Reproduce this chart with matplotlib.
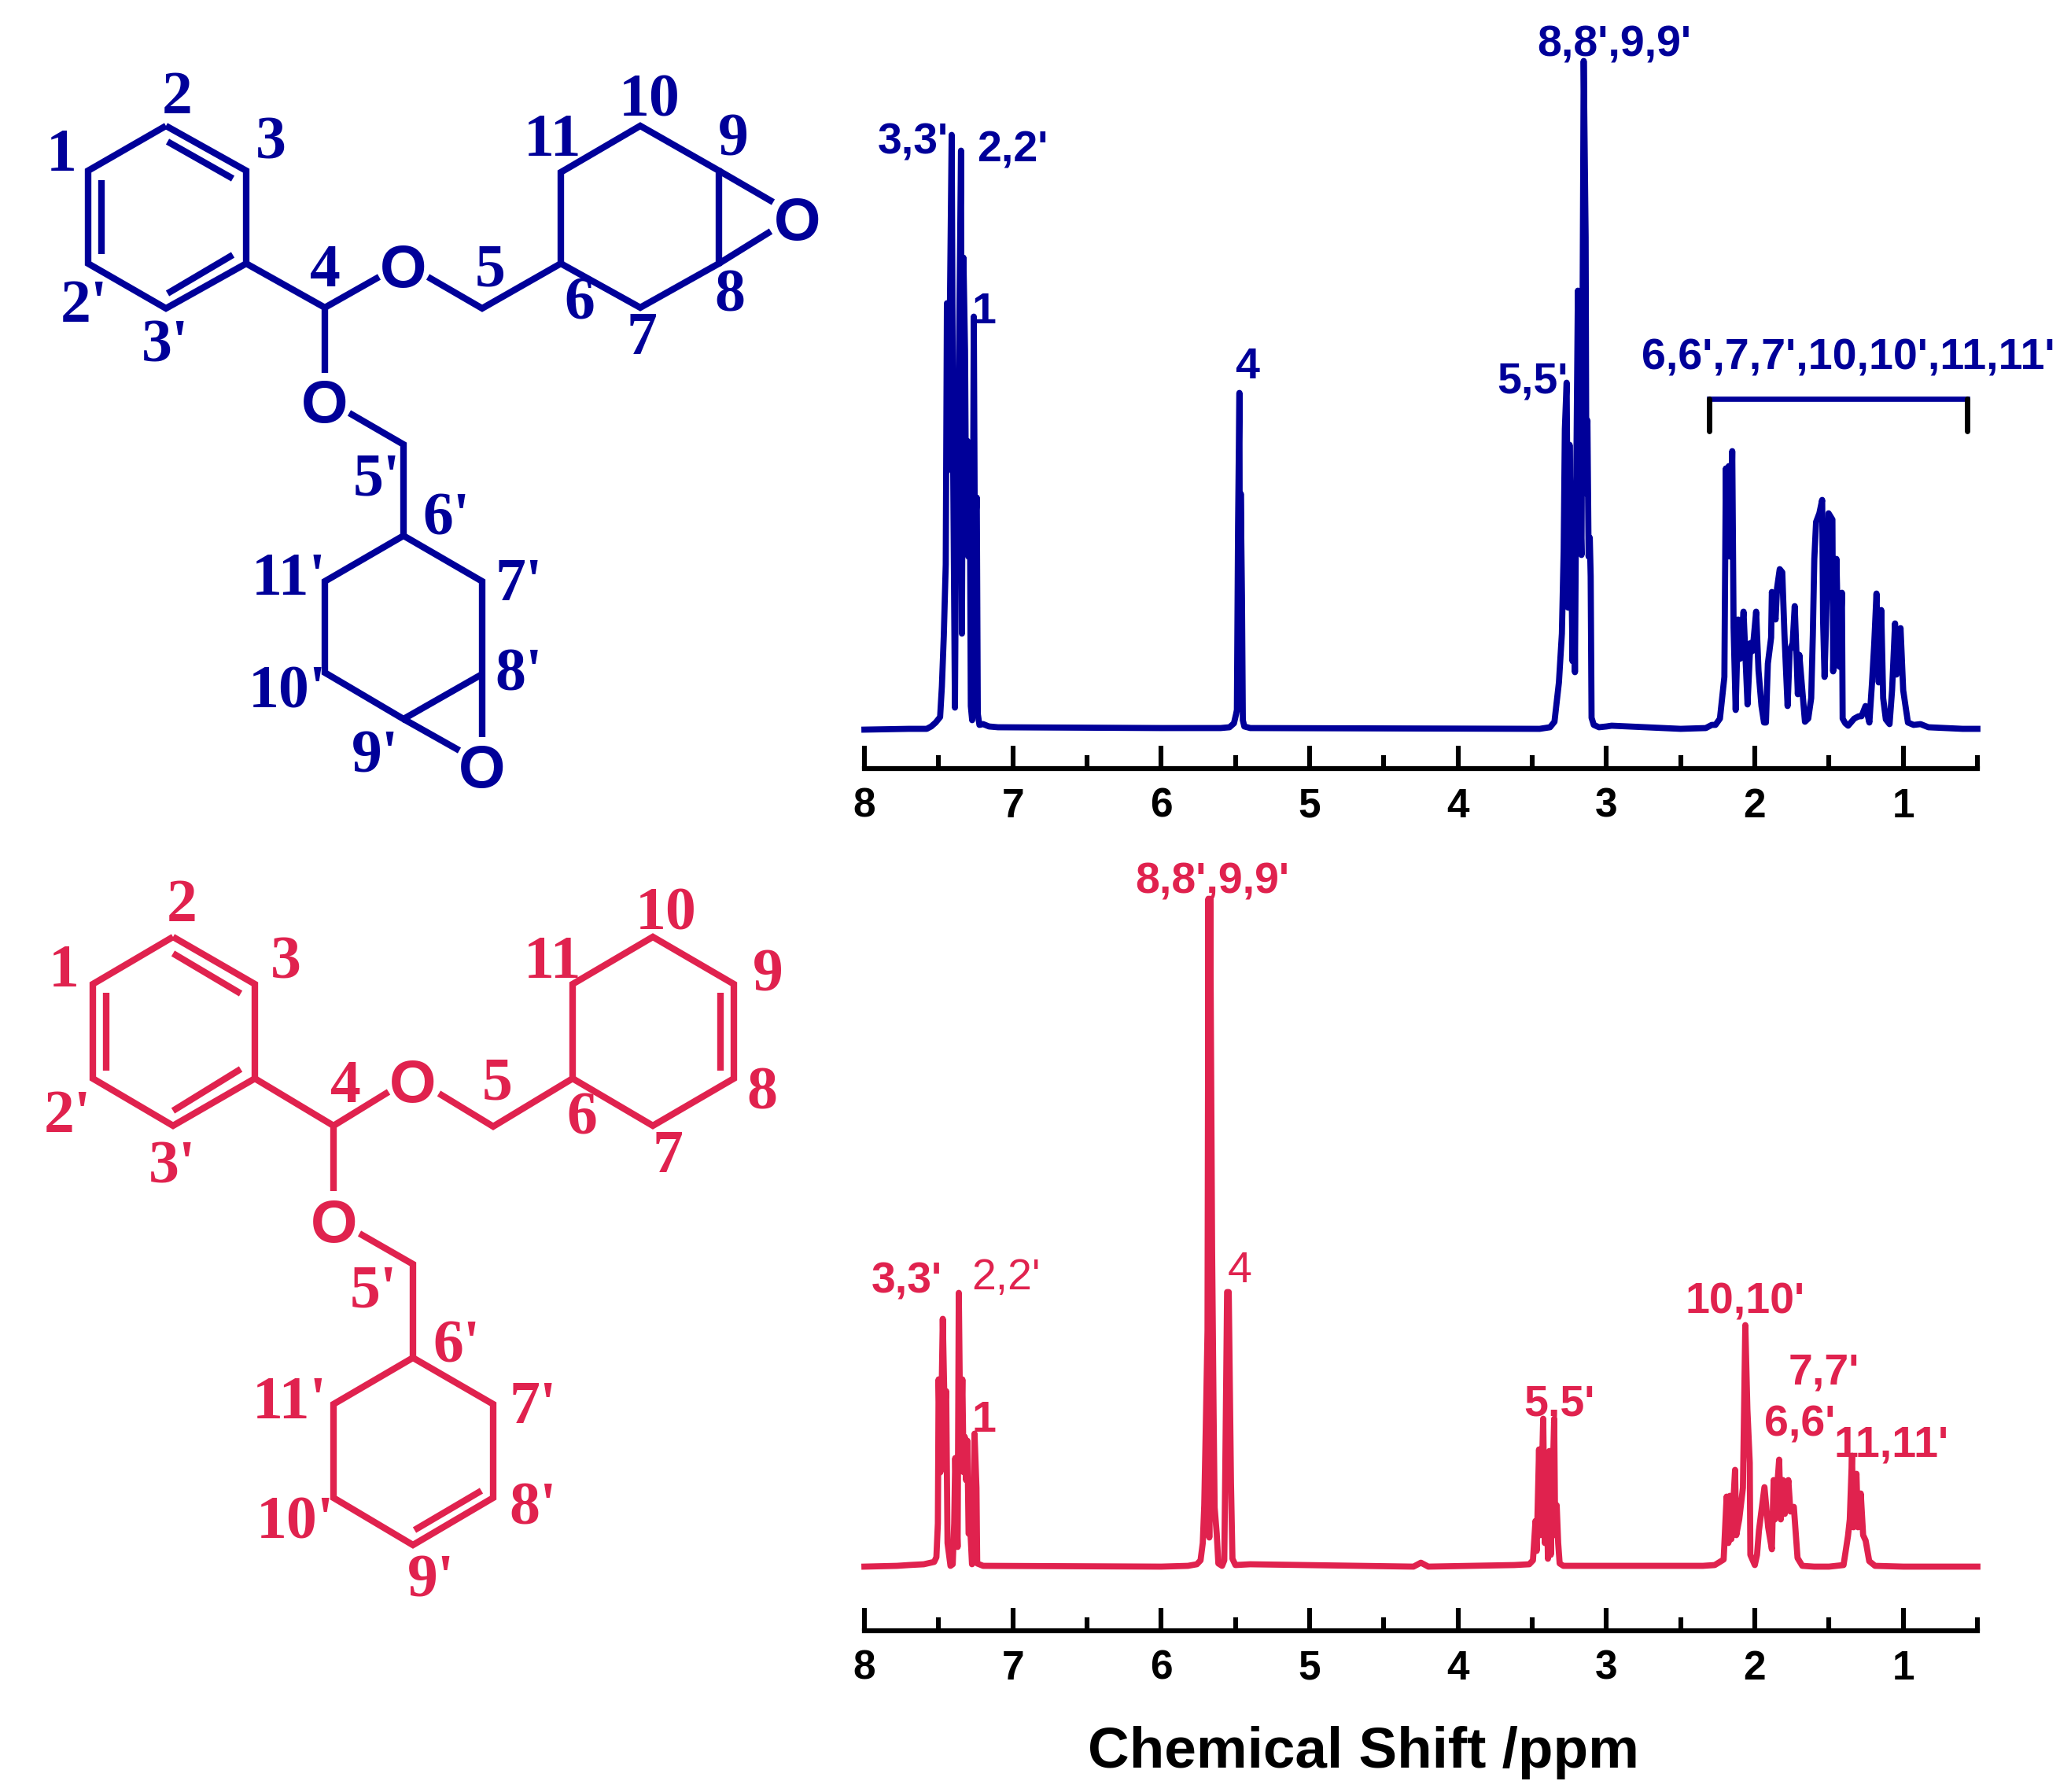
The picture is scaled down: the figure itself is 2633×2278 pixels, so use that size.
import matplotlib
matplotlib.use("Agg")
import matplotlib.pyplot as plt
from matplotlib.ticker import MultipleLocator

BLUE = "#000099"
RED = "#E0224E"
W, H = 2633, 2278

# spectrum values: ppm and peak height (arbitrary units)
blue_arom_ppm = [8.0, 7.7, 7.58, 7.55, 7.52, 7.49, 7.478, 7.465, 7.452, 7.444, 7.435, 7.412, 7.402, 7.39, 7.38, 7.372,
                 7.349, 7.343, 7.333, 7.322, 7.316, 7.306, 7.30, 7.29, 7.283, 7.274, 7.263, 7.256, 7.243, 7.236, 7.225, 7.2, 7.16, 7.1]
blue_arom_h = [0, 1, 1, 4, 9, 16, 55, 120, 210, 542, 330, 756, 338, 28, 338, 300,
               736, 122, 600, 482, 300, 367, 220, 329, 30, 12, 525, 240, 295, 20, 6, 7, 4, 3]
blue_h4_ppm = [6.0, 5.6, 5.54, 5.51, 5.495, 5.49, 5.482, 5.473, 5.469, 5.464, 5.456, 5.45, 5.44, 5.4]
blue_h4_h = [2, 2, 3, 8, 20, 25, 260, 428, 30, 300, 170, 12, 4, 2]
blue_ch2o_ppm = [3.45, 3.38, 3.35, 3.32, 3.30, 3.288, 3.28, 3.268, 3.258, 3.248, 3.238, 3.228, 3.22, 3.212, 3.204, 3.192,
                 3.178, 3.168, 3.153, 3.14, 3.135, 3.128, 3.12, 3.112, 3.106, 3.10, 3.085, 3.05, 3.0, 2.965]
blue_ch2o_h = [1, 3, 10, 60, 122, 227, 382, 441, 155, 362, 230, 87, 250, 73, 300, 558,
               300, 222, 850, 626, 300, 393, 220, 244, 195, 15, 6, 3, 4, 5]
blue_alk_ppm = [2.5, 2.33, 2.29, 2.265, 2.235, 2.205, 2.195, 2.185, 2.175, 2.165, 2.152, 2.143, 2.129, 2.113, 2.10, 2.076,
                2.06, 2.049, 2.03, 2.015, 1.991, 1.975, 1.955, 1.938, 1.925, 1.912, 1.89, 1.885, 1.86, 1.85, 1.832, 1.815,
                1.80, 1.779, 1.765, 1.745, 1.731, 1.72, 1.71, 1.70, 1.68, 1.662, 1.64, 1.62, 1.609, 1.599, 1.587, 1.565,
                1.546, 1.54, 1.53, 1.515, 1.503, 1.477, 1.472, 1.462, 1.45, 1.44, 1.43, 1.413, 1.408, 1.39, 1.371, 1.33,
                1.30, 1.281, 1.254, 1.228, 1.21, 1.195, 1.18, 1.165, 1.148, 1.135, 1.117, 1.092, 1.075, 1.055, 1.045, 1.018,
                1.00, 0.968, 0.93, 0.883, 0.83, 0.6, 0.5]
blue_alk_h = [1, 2, 6, 6, 14, 67, 332, 220, 335, 220, 354, 130, 25, 140, 90, 150,
              80, 32, 110, 100, 150, 75, 30, 9, 9, 84, 117, 175, 140, 180, 204, 200,
              120, 30, 100, 110, 157, 100, 45, 95, 50, 10, 14, 40, 120, 217, 264, 275,
              292, 140, 67, 170, 275, 267, 74, 160, 217, 130, 80, 174, 14, 8, 5, 14,
              17, 17, 30, 9, 60, 110, 173, 60, 152, 40, 13, 7, 50, 135, 70, 129,
              50, 9, 6, 7, 3, 1, 1]

red_arom_ppm = [8.0, 7.78, 7.7, 7.6, 7.53, 7.515, 7.505, 7.50, 7.488, 7.472, 7.46, 7.449, 7.44, 7.42, 7.405, 7.395, 7.388,
                7.378, 7.372, 7.364, 7.352, 7.34, 7.332, 7.324, 7.315, 7.306, 7.298, 7.285, 7.275, 7.268, 7.258, 7.245, 7.24, 7.2]
red_arom_h = [0, 1, 2, 3, 6, 12, 55, 238, 120, 315, 200, 223, 30, 1, 3, 55, 138,
              60, 25, 348, 130, 238, 120, 165, 110, 160, 42, 42, 3, 10, 169, 100, 4, 1]
red_vinyl_ppm = [6.0, 5.82, 5.76, 5.735, 5.72, 5.71, 5.70, 5.688, 5.682, 5.676, 5.67, 5.657, 5.647, 5.64, 5.626, 5.615,
                 5.59, 5.575, 5.567, 5.556, 5.545, 5.53, 5.52, 5.5, 5.4, 4.3, 4.25, 4.2]
red_vinyl_h = [0, 1, 3, 8, 30, 78, 174, 300, 849, 37, 849, 400, 194, 75, 42, 4,
               1, 8, 147, 349, 349, 107, 10, 2, 3, 0, 5, 0]
red_ch2o_ppm = [3.62, 3.52, 3.495, 3.478, 3.47, 3.454, 3.445, 3.426, 3.415, 3.405, 3.394, 3.384, 3.375, 3.352, 3.345,
                3.335, 3.325, 3.315, 3.29, 3.2]
red_ch2o_h = [2, 3, 8, 58, 20, 149, 40, 188, 30, 130, 10, 147, 15, 188, 40,
              78, 30, 4, 1, 1]
red_alk_ppm = [2.35, 2.27, 2.21, 2.19, 2.178, 2.168, 2.158, 2.133, 2.125, 2.105, 2.08, 2.064, 2.05, 2.034, 2.03, 2.0,
               1.985, 1.972, 1.935, 1.91, 1.885, 1.873, 1.865, 1.836, 1.825, 1.81, 1.798, 1.774, 1.76, 1.737, 1.712, 1.68,
               1.6, 1.5, 1.402, 1.372, 1.36, 1.345, 1.335, 1.315, 1.305, 1.286, 1.27, 1.253, 1.229, 1.19, 1.0, 0.5]
red_alk_h = [1, 2, 9, 89, 30, 90, 35, 123, 40, 60, 100, 307, 200, 132, 15, 2,
             15, 46, 101, 50, 22, 110, 60, 136, 60, 110, 67, 110, 70, 76, 11, 1,
             0, 0, 2, 39, 60, 141, 50, 118, 50, 93, 40, 33, 7, 1, 0, 0]

tick_labels = ["8", "7", "6", "5", "4", "3", "2", "1"]
bracket_ppm = [2.306, 0.567]
bracket_h = [421, 380]

# peak labels: text, figure pixel position, weight
blue_peak_labels = [("3,3'", 1161, 176), ("2,2'", 1287, 186), ("1", 1251, 391), ("4", 1586, 461),
                    ("5,5'", 1948, 479), ("8,8',9,9'", 2052, 52), ("6,6',7,7',10,10',11,11'", 2350, 450)]
red_peak_labels = [("3,3'", 1153, 1624, "bold"), ("2,2'", 1279, 1619, "normal"), ("1", 1251, 1800, "bold"),
                   ("4", 1576, 1610, "normal"), ("8,8',9,9'", 1541, 1115, "bold"), ("5,5'", 1982, 1779, "bold"),
                   ("10,10'", 2219, 1650, "bold"), ("7,7'", 2319, 1740, "bold"), ("6,6'", 2288, 1805, "bold"),
                   ("11,11'", 2405, 1831, "bold")]

# structures in figure pixels
blue_bonds = [
    [(211, 160), (313, 217), (313, 335), (211, 392), (112, 335), (112, 217), (211, 160)],
    [(213, 180), (296, 227)], [(129, 229), (129, 323)], [(213, 373), (296, 324)],
    [(313, 335), (413, 391), (482, 352)], [(544, 352), (613, 392), (713, 335)],
    [(713, 335), (713, 219), (814, 160), (914, 217), (914, 335), (814, 391), (713, 335)],
    [(914, 217), (983, 257)], [(914, 335), (980, 294)],
    [(413, 391), (413, 474)], [(444, 525), (513, 565), (513, 681)],
    [(513, 681), (613, 739), (613, 937)], [(613, 857), (513, 914), (413, 855), (413, 739), (513, 681)],
    [(513, 914), (584, 954)],
]
blue_oxygens = [(513, 337), (1014, 278), (413, 510), (613, 973)]
blue_atoms = [("1", 78, 190), ("2", 225, 117), ("3", 344, 174), ("2'", 107, 382), ("3'", 210, 433), ("4", 413, 337),
              ("5", 623, 337), ("6", 737, 378), ("7", 816, 423), ("8", 928, 369), ("9", 932, 171), ("10", 826, 120),
              ("11", 702, 171), ("5'", 479, 602), ("6'", 568, 653), ("7'", 660, 736), ("8'", 660, 850), ("9'", 477, 954),
              ("10'", 365, 873), ("11'", 367, 729)]
red_bonds = [
    [(220, 1191), (324, 1251), (324, 1371), (220, 1431), (118, 1371), (118, 1251), (220, 1191)],
    [(220, 1212), (306, 1263)], [(135, 1262), (135, 1361)], [(220, 1412), (306, 1359)],
    [(324, 1371), (424, 1431), (494, 1388)], [(558, 1390), (627, 1432), (728, 1371)],
    [(728, 1371), (728, 1251), (830, 1191), (933, 1251), (933, 1371), (830, 1431), (728, 1371)],
    [(916, 1262), (916, 1361)],
    [(424, 1431), (424, 1514)], [(457, 1568), (525, 1607), (525, 1726)],
    [(525, 1726), (627, 1785), (627, 1904), (525, 1964), (424, 1904), (424, 1785), (525, 1726)],
    [(527, 1945), (612, 1895)],
]
red_oxygens = [(525, 1374), (425, 1552)]
red_atoms = [("1", 81, 1227), ("2", 231, 1144), ("3", 363, 1216), ("2'", 86, 1412), ("3'", 219, 1476), ("4", 439, 1374),
             ("5", 632, 1371), ("6", 740, 1414), ("7", 849, 1463), ("8", 969, 1383), ("9", 976, 1233), ("10", 847, 1154),
             ("11", 702, 1216), ("5'", 475, 1635), ("6'", 581, 1705), ("7'", 678, 1782), ("8'", 678, 1910), ("9'", 548, 2002),
             ("10'", 375, 1929), ("11'", 368, 1776)]

SANS = "Liberation Sans"
SERIF = "Liberation Serif"

fig = plt.figure(figsize=(W / 100, H / 100), dpi=100, facecolor="white")


def spectrum_axes(top_px, axis_px, base_px):
    ax = fig.add_axes([1099 / W, 1 - axis_px / H, (2514 - 1099) / W, (axis_px - top_px) / H])
    ax.set_xlim(8, 0.5)
    ax.set_ylim(base_px - axis_px, base_px - top_px)
    ax.patch.set_alpha(0)
    for side in ["top", "left", "right"]:
        ax.spines[side].set_visible(False)
    ax.spines["bottom"].set_linewidth(4.5)
    ax.yaxis.set_visible(False)
    ax.xaxis.set_major_locator(MultipleLocator(1))
    ax.xaxis.set_minor_locator(MultipleLocator(0.5))
    ax.set_xticks(range(8, 0, -1))
    ax.set_xticklabels(tick_labels, fontsize=37, fontweight="bold", family=SANS)
    ax.tick_params(axis="x", which="major", direction="in", length=21, width=4.4, pad=17)
    ax.tick_params(axis="x", which="minor", direction="in", length=12, width=4.4)
    return ax


ax1 = spectrum_axes(40, 977, 927.5)
ax1.plot(blue_arom_ppm + blue_h4_ppm + blue_ch2o_ppm + blue_alk_ppm,
         blue_arom_h + blue_h4_h + blue_ch2o_h + blue_alk_h,
         color=BLUE, lw=5.6, solid_joinstyle="round", clip_on=False)
ax1.plot(bracket_ppm, [bracket_h[0]] * 2, color=BLUE, lw=4.8)
for p in bracket_ppm:
    ax1.plot([p, p], bracket_h, color="black", lw=5, solid_capstyle="round")

ax2 = spectrum_axes(1100, 2073, 1991.5)
ax2.plot(red_arom_ppm + red_vinyl_ppm + red_ch2o_ppm + red_alk_ppm,
         red_arom_h + red_vinyl_h + red_ch2o_h + red_alk_h,
         color=RED, lw=5.6, solid_joinstyle="round", clip_on=False)

# overlay in pixels for the structures and labels
over = fig.add_axes([0, 0, 1, 1])
over.set_xlim(0, W)
over.set_ylim(H, 0)
over.axis("off")
over.patch.set_alpha(0)


def draw_structure(bonds, oxygens, atoms, color):
    for bond in bonds:
        over.plot([q[0] for q in bond], [q[1] for q in bond], color=color, lw=6,
                  solid_joinstyle="miter", solid_capstyle="butt")
    for x, y in oxygens:
        over.text(x, y, "O", color=color, fontsize=55, fontweight="bold", family=SANS, ha="center", va="center_baseline")
    for t, x, y in atoms:
        over.text(x, y, t, color=color, fontsize=56, fontweight="bold", family=SERIF, ha="center", va="center_baseline")


draw_structure(blue_bonds, blue_oxygens, blue_atoms, BLUE)
draw_structure(red_bonds, red_oxygens, red_atoms, RED)

for t, x, y in blue_peak_labels:
    over.text(x, y, t, color=BLUE, fontsize=40, fontweight="bold", family=SANS, ha="center", va="center_baseline")
for t, x, y, w in red_peak_labels:
    over.text(x, y, t, color=RED, fontsize=40, fontweight=w, family=SANS, ha="center", va="center_baseline")

over.text(1733, 2220, "Chemical Shift /ppm", fontsize=52.5, fontweight="bold", family=SANS,
          ha="center", va="center_baseline", color="black")

fig.savefig("out.png", dpi=100)
